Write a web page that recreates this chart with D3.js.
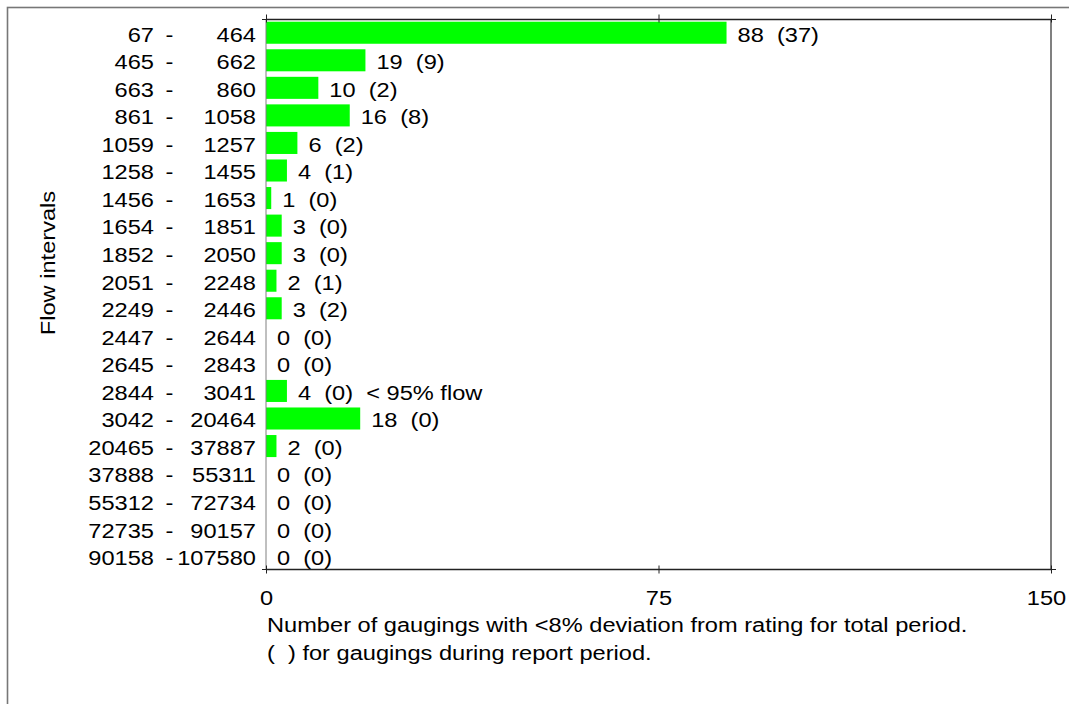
<!DOCTYPE html>
<html>
<head>
<meta charset="utf-8">
<script src="https://cdn.jsdelivr.net/npm/d3@7"></script>
<style>
  html, body { margin: 0; padding: 0; background: #fff; }
  svg { display: block; }
  text { font-family: "Liberation Sans", Arial, sans-serif; fill: #000; white-space: pre; }
</style>
</head>
<body>
<svg id="chart" width="1069" height="704"></svg>
<script>
// Flow interval bounds (lower / upper), one row per interval
const lowerBounds = [67, 465, 663, 861, 1059, 1258, 1456, 1654, 1852, 2051, 2249, 2447, 2645, 2844, 3042, 20465, 37888, 55312, 72735, 90158];
const upperBounds = [464, 662, 860, 1058, 1257, 1455, 1653, 1851, 2050, 2248, 2446, 2644, 2843, 3041, 20464, 37887, 55311, 72734, 90157, 107580];
// Gaugings with <8% deviation: total period, and report period (in brackets)
const totalCounts  = [88, 19, 10, 16, 6, 4, 1, 3, 3, 2, 3, 0, 0, 4, 18, 2, 0, 0, 0, 0];
const reportCounts = [37, 9, 2, 8, 2, 1, 0, 0, 0, 1, 2, 0, 0, 0, 0, 0, 0, 0, 0, 0];
// Row flagged as the 95% flow limit
const flowLimitIndex = 13;
const flowLimitNote = "< 95% flow";
const xTickValues = [0, 75, 150];
const yAxisTitle = "Flow intervals";
const captionLines = [
  "Number of gaugings with <8% deviation from rating for total period.",
  "(  ) for gaugings during report period."
];

const FS = 21;        // glyph height
const SX = 1.125;     // horizontal glyph stretch
const BASE = 8.8;     // baseline offset below the row centre

const svg = d3.select("#chart");
const plot = { left: 266, right: 1051, top: 19.5, bottom: 569.5 };

const rows = lowerBounds.map((lo, i) => ({
  i, lo, hi: upperBounds[i], total: totalCounts[i], report: reportCounts[i]
}));

const x = d3.scaleLinear().domain([0, 150]).range([plot.left, plot.right]);
const y = d3.scaleBand().domain(rows.map(d => d.i))
  .range([plot.top, plot.bottom]).paddingInner(0.2).paddingOuter(0.08);

// place a stretched text element at (px, py)
function put(sel, px, py, extra) {
  sel.attr("font-size", FS)
     .attr("transform", `translate(${px},${py})${extra || ""} scale(${SX},1)`);
  return sel;
}

// outer border
svg.append("rect")
  .attr("x", 7.5).attr("y", 7.5).attr("width", 1080).attr("height", 720)
  .attr("fill", "none").attr("stroke", "#777").attr("stroke-width", 1.6);

// bars
svg.append("g").selectAll("rect").data(rows).join("rect")
  .attr("x", x(0))
  .attr("y", d => y(d.i))
  .attr("width", d => x(d.total) - x(0))
  .attr("height", y.bandwidth())
  .attr("fill", "#00ff00");

// frame
const frame = svg.append("g");
frame.append("line").attr("x1", plot.left).attr("x2", plot.left)
  .attr("y1", plot.top).attr("y2", plot.bottom).attr("stroke", "#808080").attr("stroke-width", 1);
frame.append("line").attr("x1", plot.right).attr("x2", plot.right)
  .attr("y1", plot.top).attr("y2", plot.bottom).attr("stroke", "#808080").attr("stroke-width", 2);
frame.append("line").attr("x1", plot.left).attr("x2", plot.right)
  .attr("y1", plot.top).attr("y2", plot.top).attr("stroke", "#222").attr("stroke-width", 1.3);
frame.append("line").attr("x1", plot.left).attr("x2", plot.right)
  .attr("y1", plot.bottom).attr("y2", plot.bottom).attr("stroke", "#222").attr("stroke-width", 1.3);

// top axis (ticks only)
const topAxis = svg.append("g").attr("transform", `translate(0,${plot.top})`)
  .call(d3.axisTop(x).tickValues(xTickValues).tickFormat(""));
topAxis.select(".domain").remove();
topAxis.selectAll(".tick line").attr("y1", 3).attr("y2", -5).attr("stroke", "#222");

// bottom axis with labels
const bottomAxis = svg.append("g").attr("transform", `translate(0,${plot.bottom})`)
  .call(d3.axisBottom(x).tickValues(xTickValues).tickFormat(d3.format("d")));
bottomAxis.select(".domain").remove();
bottomAxis.selectAll(".tick line").attr("y1", -4).attr("y2", 4).attr("stroke", "#222");
bottomAxis.selectAll(".tick text")
  .attr("x", null).attr("y", null).attr("dy", null)
  .attr("text-anchor", "middle")
  .attr("font-family", null)
  .each(function(d) {
    // keep the last label inside the border
    const shift = d === 150 ? -5 : 0;
    put(d3.select(this), shift, 35.5);
  });

// end ticks of the vertical frame lines
[plot.top, plot.bottom].forEach(py => {
  [plot.left, plot.right].forEach(px => {
    svg.append("line").attr("x1", px - 4).attr("x2", px + 5)
      .attr("y1", py).attr("y2", py).attr("stroke", "#222").attr("stroke-width", 1);
  });
});

// interval labels: "lower - upper"
const labels = svg.append("g");
rows.forEach(d => {
  const by = y(d.i) + y.bandwidth() / 2 + BASE;
  put(labels.append("text").attr("text-anchor", "end").text(d.lo), 154, by);
  put(labels.append("text").attr("text-anchor", "middle").text("-"), 169.5, by);
  put(labels.append("text").attr("text-anchor", "end").text(d.hi), 256, by);
});

// value labels: "total  (report)"
const values = svg.append("g");
rows.forEach(d => {
  const by = y(d.i) + y.bandwidth() / 2 + BASE;
  let s = `${d.total}  (${d.report})`;
  if (d.i === flowLimitIndex) s += "  " + flowLimitNote;
  put(values.append("text").attr("text-anchor", "start").text(s), x(d.total) + 11, by);
});

// y-axis title
put(svg.append("text").attr("text-anchor", "middle").text(yAxisTitle), 54.5, 263, " rotate(-90)");

// caption
captionLines.forEach((line, k) => {
  put(svg.append("text").attr("text-anchor", "start").text(line), 267, 632 + k * 28);
});
</script>
</body>
</html>
